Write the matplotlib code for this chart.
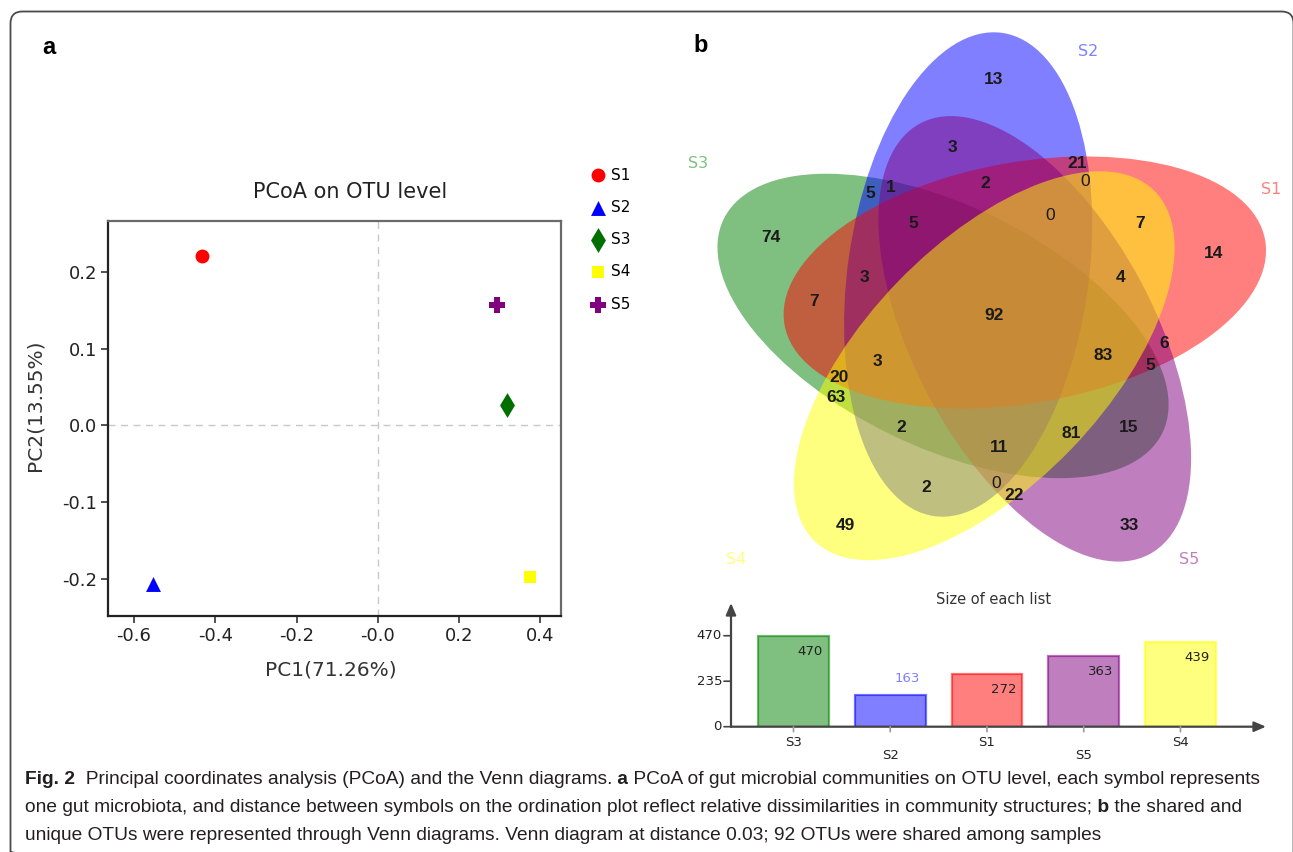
import numpy as np
import matplotlib
matplotlib.use('Agg')
import matplotlib.pyplot as plt
from matplotlib.patches import Ellipse, FancyBboxPatch
from matplotlib import font_manager

# ---------------- data ----------------
pcoa_samples = ['S1', 'S2', 'S3', 'S4', 'S5']
pc1_values = [-0.433, -0.554, 0.318, 0.375, 0.293]
pc2_values = [0.221, -0.207, 0.027, -0.197, 0.157]
pcoa_title = 'PCoA on OTU level'
pc1_label = 'PC1(71.26%)'
pc2_label = 'PC2(13.55%)'
pc1_ticks = [-0.6, -0.4, -0.2, 0.0, 0.2, 0.4]
pc1_ticklabels = ['-0.6', '-0.4', '-0.2', '-0.0', '0.2', '0.4']
pc2_ticks = [-0.2, -0.1, 0.0, 0.1, 0.2]
pc2_ticklabels = ['-0.2', '-0.1', '0.0', '0.1', '0.2']

# Venn sets, clockwise starting at the top petal
venn_sets = ['S2', 'S1', 'S5', 'S4', 'S3']
region_counts = [13, 3, 21, 0, 2, 5, 1, 0, 7, 5, 74, 14, 3, 4, 7, 92,
                 6, 83, 5, 3, 20, 63, 2, 15, 81, 11, 2, 0, 22, 49, 33]

list_names = ['S3', 'S2', 'S1', 'S5', 'S4']
list_sizes = [470, 163, 272, 363, 439]
list_ticks = [0, 235, 470]
list_title = 'Size of each list'

caption_lines = [
    [('Fig. 2', True), ('  Principal coordinates analysis (PCoA) and the Venn diagrams.', False),
     (' a', True), (' PCoA of gut microbial communities on OTU level, each symbol represents', False)],
    [('one gut microbiota, and distance between symbols on the ordination plot reflect relative '
      'dissimilarities in community structures;', False), (' b', True), (' the shared and', False)],
    [('unique OTUs were represented through Venn diagrams. Venn diagram at distance 0.03; '
      '92 OTUs were shared among samples', False)],
]

# ---------------- styles / layout ----------------
W, H = 1293, 852
names = {f.name for f in font_manager.fontManager.ttflist}
NARROW = 'Liberation Sans Narrow' if 'Liberation Sans Narrow' in names else 'Liberation Sans'
plt.rcParams['font.family'] = ['DejaVu Sans']

marker_style = {'S1': ('o', '#ff0000', 100), 'S2': ('^', '#0000ff', 115),
                'S3': ('d', '#006f00', 160), 'S4': ('s', '#ffff00', 85),
                'S5': ('P', '#800080', 130)}
set_color = {'S1': '#ff0000', 'S2': '#0000ff', 'S3': '#008000',
             'S4': '#ffff00', 'S5': '#800080'}
set_label_color = {'S1': '#ff8080', 'S2': '#8080ff', 'S3': '#80c080',
                   'S4': '#ffff80', 'S5': '#c080c0'}
draw_order = ['S3', 'S2', 'S1', 'S5', 'S4']

# Venn geometry (pixels)
VC = (991.0, 317.5)
V_R = 48.7
V_A, V_B = 244.0, 120.5
set_label_xy = {'S2': (1088, 52), 'S1': (1271, 190), 'S5': (1189, 559),
                'S4': (736, 559), 'S3': (698, 163)}
region_xy = [(994, 79), (952, 147), (1077, 163), (1085, 182), (985, 184), (870, 194),
             (891, 188), (1050, 215), (1140, 224), (913, 224), (771, 237), (1214, 253),
             (864, 277), (1121, 277), (814, 302), (994, 316), (1164, 344), (1103, 355),
             (1150, 365), (877, 362), (839, 377), (836, 398), (901, 428), (1129, 428),
             (1071, 434), (999, 448), (926, 487), (996, 484), (1014, 496), (845, 526),
             (1129, 526)]

fig = plt.figure(figsize=(W / 100, H / 100), dpi=100)
bg = fig.add_axes([0, 0, 1, 1])
bg.set_xlim(0, W)
bg.set_ylim(H, 0)
bg.axis('off')

# outer rounded frame
bg.add_patch(FancyBboxPatch((10.5, 11.5), 1283, 852, boxstyle='round,pad=0,rounding_size=12',
                            fc='none', ec='#4a4a4a', lw=1.3))
bg.text(49, 47, 'a', ha='center', va='center', weight='bold', size=17, family='Liberation Sans')
bg.text(701, 45, 'b', ha='center', va='center', weight='bold', size=17, family='Liberation Sans')

# ---------------- panel a: PCoA ----------------
ax = fig.add_axes([108 / W, 1 - 616 / H, 453 / W, (616 - 220.7) / H])
ax.set_xlim(-0.664, 0.451)
ax.set_ylim(-0.248, 0.2664)
ax.axvline(0, color='#c8c8c8', lw=1.0, ls=(0, (5, 4)), zorder=1)
ax.axhline(0, color='#c8c8c8', lw=1.0, ls=(0, (5, 4)), zorder=1)
handles = []
for name, x, y in zip(pcoa_samples, pc1_values, pc2_values):
    m, c, s = marker_style[name]
    h = ax.scatter([x], [y], marker=m, c=c, s=s, linewidths=0, zorder=3, label=name)
    handles.append(h)
ax.set_xticks(pc1_ticks)
ax.set_xticklabels(pc1_ticklabels)
ax.set_yticks(pc2_ticks)
ax.set_yticklabels(pc2_ticklabels)
ax.tick_params(direction='out', length=5, width=1.2, color='#333333', labelsize=13,
               labelcolor='#222222', pad=3)
for side in ['left', 'bottom']:
    ax.spines[side].set_color('#222222')
    ax.spines[side].set_linewidth(1.6)
for side in ['top', 'right']:
    ax.spines[side].set_color('#6a6a6a')
    ax.spines[side].set_linewidth(1.6)
ax.set_title(pcoa_title, fontsize=15, color='#222222', x=0.534, pad=16)
ax.set_xlabel(pc1_label, fontsize=14.5, color='#333333')
ax.set_ylabel(pc2_label, fontsize=14.5, color='#333333')
ax.xaxis.label.set_va('center')
ax.yaxis.label.set_va('center')
ax.xaxis.set_label_coords((331 - 108) / 453, (616 - 670) / 395.3)
ax.yaxis.set_label_coords((35 - 108) / 453, (616 - 405) / 395.3)
ax.legend(handles=handles, loc='upper left', bbox_to_anchor=(590 / W, 1 - 167.5 / H),
          bbox_transform=fig.transFigure, frameon=False, handlelength=1.0,
          handletextpad=0.4, labelspacing=1.13, borderpad=0, borderaxespad=0,
          scatterpoints=1, fontsize=11, markerscale=1.0)

# ---------------- panel b: Venn ----------------
ellipses = {}
for i, name in enumerate(venn_sets):
    theta = 82 - 72 * i
    phi = np.deg2rad(118 - 72 * i)
    cx = VC[0] + V_R * np.cos(phi)
    cy = VC[1] - V_R * np.sin(phi)
    ellipses[name] = (cx, cy, theta)
for name in draw_order:
    cx, cy, theta = ellipses[name]
    bg.add_patch(Ellipse((cx, cy), 2 * V_A, 2 * V_B, angle=-theta,
                         fc=set_color[name], ec='none', alpha=0.5, zorder=2))
for name in venn_sets:
    x, y = set_label_xy[name]
    bg.text(x, y, name, ha='center', va='center', fontsize=11.5,
            color=set_label_color[name], zorder=4)
for val, (x, y) in zip(region_counts, region_xy):
    bg.text(x, y, str(val), ha='center', va='center', fontsize=12.5,
            family=NARROW, weight='normal' if val == 0 else 'bold',
            color='#1a1a1a', zorder=4)

# ---------------- list-size bar chart ----------------
bx = fig.add_axes([731 / W, 1 - 726.7 / H, (1266 - 731) / W, (726.7 - 603) / H])
bx.patch.set_alpha(0)
bx.set_xlim(-0.646, 4.884)
bx.set_ylim(0, 639)
pos = np.arange(len(list_names))
for p, name, v in zip(pos, list_names, list_sizes):
    bx.bar(p, v, width=0.73, color=set_color[name], alpha=0.5, zorder=2)
    bx.bar(p, v, width=0.73, fc='none', ec=set_color[name], lw=1.6, alpha=0.55, zorder=2)
label_offset = [-15.5, 17, -15, -15.5, -16]
label_color = ['#222222', '#8080ff', '#222222', '#222222', '#222222']
for p, v, off, col in zip(pos, list_sizes, label_offset, label_color):
    bx.annotate(str(v), (p, v), xytext=(17, off), textcoords='offset pixels',
                ha='center', va='center', fontsize=9.5, color=col, zorder=4)
for spine in bx.spines.values():
    spine.set_visible(False)
bx.set_xticks([])
bx.set_yticks([])
arrow_kw = dict(arrowstyle='-|>,head_length=0.7,head_width=0.3', color='#444444', lw=1.6,
                shrinkA=0, shrinkB=0)
bx.annotate('', xy=(1, 0), xytext=(0, 0), xycoords='axes fraction', arrowprops=arrow_kw)
bx.annotate('', xy=(0, 1), xytext=(0, 0), xycoords='axes fraction', arrowprops=arrow_kw)
for t in list_ticks:
    bx.annotate('', xy=(0, t), xycoords=('axes fraction', 'data'), xytext=(-7, 0),
                textcoords='offset pixels',
                arrowprops=dict(arrowstyle='-', color='#444444', lw=1.2, shrinkA=0, shrinkB=0))
    bx.annotate(str(t), (0, t), xycoords=('axes fraction', 'data'), xytext=(-9, 0),
                textcoords='offset pixels', ha='right', va='center', fontsize=9.5,
                color='#222222')
for k, (p, name) in enumerate(zip(pos, list_names)):
    bx.annotate('', xy=(p, 0), xycoords=('data', 'axes fraction'), xytext=(0, -5),
                textcoords='offset pixels',
                arrowprops=dict(arrowstyle='-', color='#999999', lw=1.2, shrinkA=0, shrinkB=0))
    dy = -16 if k % 2 == 0 else -29
    bx.annotate(name, (p, 0), xycoords=('data', 'axes fraction'), xytext=(0, dy),
                textcoords='offset pixels', ha='center', va='center', fontsize=9.5,
                color='#222222')
bg.text(994, 600, list_title, ha='center', va='center', fontsize=10.5, color='#333333')

# ---------------- caption ----------------
renderer = fig.canvas.get_renderer()


def run_widths(runs, size):
    ws = []
    for txt, bold in runs:
        t = bg.text(0, 0, txt, fontsize=size, family=NARROW,
                    weight='bold' if bold else 'normal')
        ws.append(t.get_window_extent(renderer).width)
        t.remove()
    return ws


target = 1262 - 25
base = 10.0
cap_size = base * target / sum(run_widths(caption_lines[0], base))
line_y = [784, 812, 840]
for runs, y in zip(caption_lines, line_y):
    ws = run_widths(runs, cap_size)
    x = 25
    for (txt, bold), w in zip(runs, ws):
        bg.text(x, y, txt, fontsize=cap_size, family=NARROW, ha='left', va='baseline',
                weight='bold' if bold else 'normal', color='#231f20')
        x += w

fig.savefig('out.png', dpi=100)
